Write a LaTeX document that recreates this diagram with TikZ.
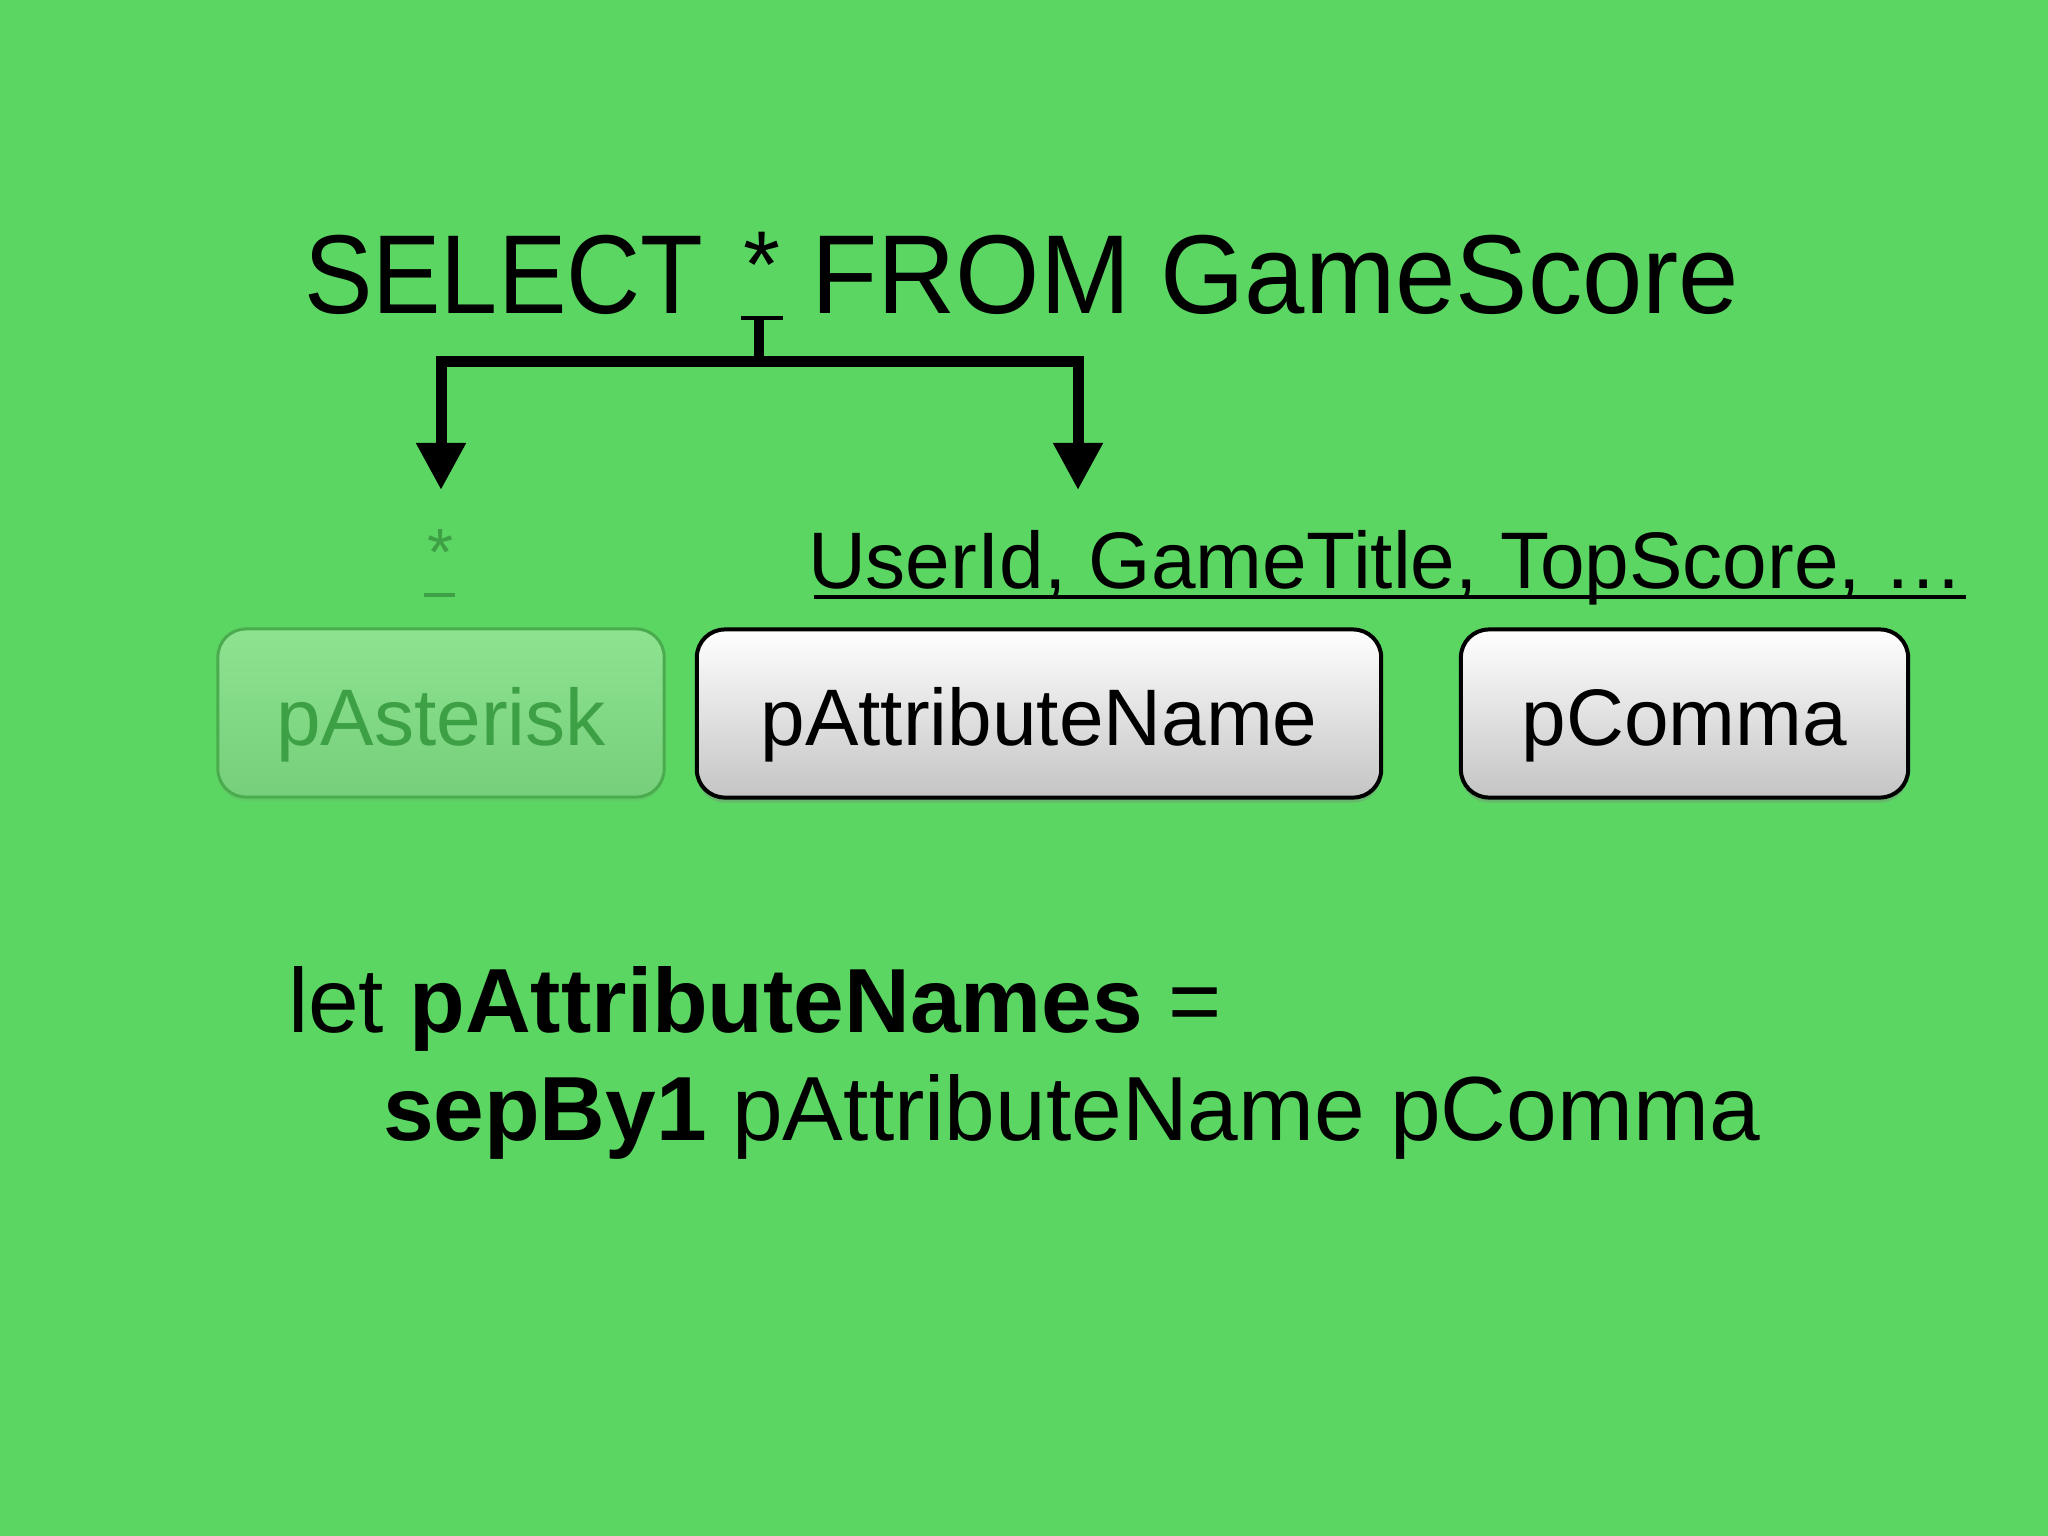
\documentclass[tikz,border=0pt]{standalone}
\usepackage{fontspec}
\setmainfont{Liberation Sans}
\usetikzlibrary{arrows.meta,shadows}
\definecolor{bg}{RGB}{91,214,98}
\definecolor{dimgreen}{RGB}{62,160,68}
\definecolor{boxgreentop}{RGB}{142,227,145}
\definecolor{boxgreenbot}{RGB}{118,207,122}
\definecolor{boxgreenline}{RGB}{74,172,78}
\definecolor{greybot}{RGB}{196,196,196}
\newcommand\selfont{\fontsize{31.9pt}{38pt}\selectfont}
\newcommand\midfont{\fontsize{22.8pt}{27pt}\selectfont}
\newcommand\codefont{\fontsize{25.9pt}{30pt}\selectfont}
\newcommand\bigstarfont{\fontsize{27pt}{30pt}\selectfont}
\newcommand\smallstarfont{\fontsize{19pt}{22pt}\selectfont}
\begin{document}
\begin{tikzpicture}[x=0.01cm,y=-0.01cm,
  txt/.style={inner sep=0pt, outer sep=0pt},
  whitebox/.style={draw=black, line width=0.04cm, rounded corners=0.28cm,
    top color=white, bottom color=greybot, minimum height=1.68cm,
    text height=0.64cm, text depth=0pt, inner sep=0pt, font=\midfont,
    drop shadow={shadow xshift=0pt, shadow yshift=-0.05cm, opacity=0.35}},
  greenbox/.style={draw=boxgreenline, line width=0.03cm, rounded corners=0.28cm,
    top color=boxgreentop, bottom color=boxgreenbot, minimum height=1.68cm,
    text height=0.64cm, text depth=0pt, inner sep=0pt, font=\midfont,
    text=dimgreen,
    drop shadow={shadow xshift=0pt, shadow yshift=-0.04cm, opacity=0.12}},
  conn/.style={line width=0.11cm, -{Triangle[length=0.47cm,width=0.47cm]}},
  stemline/.style={line width=0.10cm},
  uline/.style={line width=0.04cm}]
\useasboundingbox (0,0) rectangle (2048,1536);
\fill[bg] (0,0) rectangle (2048,1536);

% SELECT line
\node[txt, anchor=base west, font=\selfont] (sel) at (304,313) {\scalebox{0.915}[1]{SELECT}};
\node[txt, anchor=north, font=\bigstarfont] (star) at (762,232) {*};
\node[txt, anchor=base west, font=\selfont] (from) at (811,313) {\scalebox{0.967}[1]{FROM GameScore}};
\draw[uline] (741,318) -- (783,318);

% connectors
\coordinate (stemtop) at (759,318);
\coordinate (junc) at (759,361);
\coordinate (tipL) at (441,490);
\coordinate (tipR) at (1078,490);
\draw[stemline] (stemtop) -- (junc);
\draw[conn] (junc) -| (tipL);
\draw[conn] (junc) -| (tipR);

% labels under arrows
\node[txt, anchor=north, font=\smallstarfont, text=dimgreen] (starlbl) at (440,530) {*};
\draw[uline, dimgreen] (424,595) -- (455,595);
\node[txt, anchor=base west, font=\midfont] (attrs) at (808,588) {UserId, GameTitle, TopScore, …};
\draw[uline] (814,597) -- (1966,597);

% boxes
\node[greenbox, minimum width=4.46cm] (pAst) at (441,713) {pAsterisk};
\node[whitebox, minimum width=6.84cm] (pAttr) at (1039,713.5) {pAttributeName};
\node[whitebox, minimum width=4.47cm] (pCom) at (1684.5,713.5) {pComma};

% code
\node[txt, anchor=base west, font=\codefont] (code1) at (288,1032) {let \textbf{pAttributeNames} =};
\node[txt, anchor=base west, font=\codefont] (code2) at (383,1140) {\textbf{sepBy1} pAttributeName pComma};
\end{tikzpicture}
\end{document}
